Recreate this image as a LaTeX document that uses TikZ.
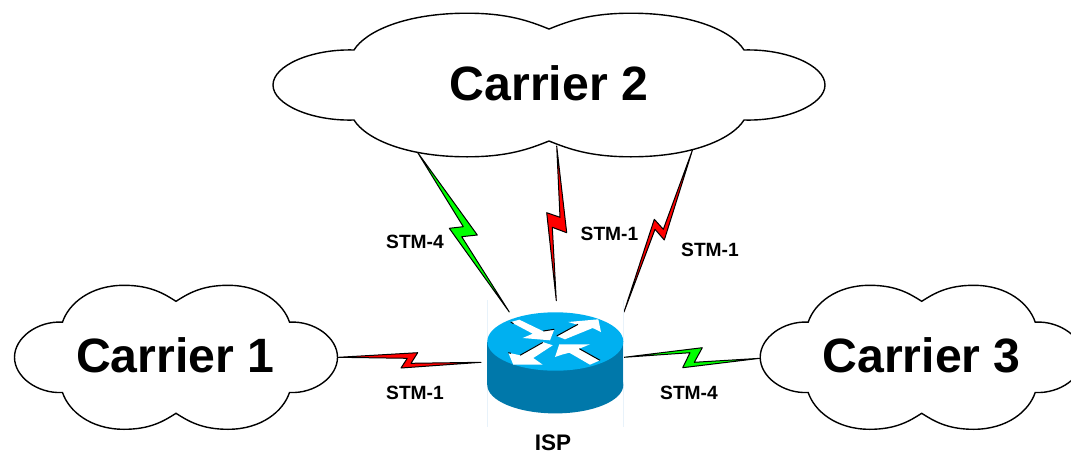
\documentclass[tikz,border=0pt]{standalone}
\usepackage{fontspec}
\setmainfont{Liberation Sans}
\usetikzlibrary{calc}
\definecolor{routertop}{RGB}{0,176,240}
\definecolor{routerbody}{RGB}{0,120,170}
\definecolor{routerghost}{RGB}{232,242,250}
\definecolor{boltgreen}{RGB}{0,255,0}
\definecolor{boltred}{RGB}{255,0,0}
\newcommand{\cloudoutline}[6]{% W N P H NY CY (centre at origin)
  \pgfmathsetmacro{\ga}{#1-#2}% side lobe depth
  \pgfmathsetmacro{\gb}{#2-#3}% notch to peak, across
  \pgfmathsetmacro{\gc}{#4-#5}% notch to peak, up
  \pgfmathsetmacro{\gd}{#4-#6}% peak to centre notch, down
  \pgfmathsetmacro{\sx}{#2+0.52*\ga}
  \pgfmathsetmacro{\sy}{#5+1.3}
  \pgfmathsetmacro{\sz}{#5*0.56}
  \pgfmathsetmacro{\nx}{#2-0.10*\gb}
  \pgfmathsetmacro{\ny}{#5+0.50*\gc}
  \pgfmathsetmacro{\px}{#3+0.55*\gb}
  \pgfmathsetmacro{\qx}{#3-0.50*#3}
  \pgfmathsetmacro{\cx}{#3*0.24}
  \pgfmathsetmacro{\cy}{#6+0.50*\gd}
  \draw[cloudline]
    (-#2,-#5) .. controls (-\sx,-\sy) and (-#1,-\sz) .. (-#1,0)
    .. controls (-#1,\sz) and (-\sx,\sy) .. (-#2,#5)
    .. controls (-\nx,\ny) and (-\px,#4) .. (-#3,#4)
    .. controls (-\qx,#4) and (-\cx,\cy) .. (0,#6)
    .. controls (\cx,\cy) and (\qx,#4) .. (#3,#4)
    .. controls (\px,#4) and (\nx,\ny) .. (#2,#5)
    .. controls (\sx,\sy) and (#1,\sz) .. (#1,0)
    .. controls (#1,-\sz) and (\sx,-\sy) .. (#2,-#5)
    .. controls (\nx,-\ny) and (\px,-#4) .. (#3,-#4)
    .. controls (\qx,-#4) and (\cx,-\cy) .. (0,-#6)
    .. controls (-\cx,-\cy) and (-\qx,-#4) .. (-#3,-#4)
    .. controls (-\px,-#4) and (-\nx,-\ny) .. (-#2,-#5)
    -- cycle;}
\tikzset{
  cloudline/.style={draw=black,fill=white,line width=1.4pt,line join=miter},
  bolt/.style={draw=black,line width=1pt,line join=round},
  cloudtext/.style={anchor=base,inner sep=0pt,font=\bfseries\fontsize{48.2}{48}\selectfont},
  linktext/.style={anchor=base,inner sep=0pt,font=\bfseries\fontsize{19.2}{20}\selectfont},
  routertext/.style={anchor=base,inner sep=0pt,font=\bfseries\fontsize{22.5}{24}\selectfont},
  arrowface/.style={fill=white,draw=none},
  arrowshade/.style={draw=black,line width=1pt}
}
\begin{document}
\begin{tikzpicture}[x=1pt,y=-1pt]
\useasboundingbox (0,0) rectangle (1071,453);
\fill[white] (0,0) rectangle (1071,453);
% link end points
\coordinate (c2a) at (417.3,152);
\coordinate (ra)  at (509.3,312);
\coordinate (c2b) at (556.7,146);
\coordinate (rb)  at (556.3,300.7);
\coordinate (c2c) at (692.7,149.3);
\coordinate (rc)  at (624,312);
\coordinate (c1e) at (338.3,357.3);
\coordinate (rd)  at (481,362.3);
\coordinate (re)  at (624,357.3);
\coordinate (c3e) at (760,358.3);
% bolts
\draw[bolt,fill=boltgreen] (c2a) -- (477.3,235) -- (461.7,236.7) -- (ra) -- (449.3,228.3) -- (463.3,226.7) -- cycle;
\draw[bolt,fill=boltred] (c2b) -- (566.7,232.7) -- (552.3,227.3) -- (rb) -- (546.7,212.7) -- (560,217.3) -- cycle;
\draw[bolt,fill=boltred] (c2c) -- (664.3,240) -- (655,229.3) -- (rc) -- (654.3,219.3) -- (663.3,229.3) -- cycle;
\draw[bolt,fill=boltred] (c1e) -- (417.7,352.7) -- (411,363.3) -- (rd) -- (401,368) -- (407.3,358.3) -- cycle;
\draw[bolt,fill=boltgreen] (re) -- (702.3,347.7) -- (694.3,362.3) -- (c3e) -- (682.7,367.7) -- (690,352.7) -- cycle;
% clouds
\begin{scope}[shift={(176,357.3)}]\cloudoutline{161.5}{113.5}{52}{72}{35.2}{56}\end{scope}
\begin{scope}[shift={(549,85)}]\cloudoutline{276}{195}{82}{71.8}{35}{56}\end{scope}
\begin{scope}[shift={(921.7,357.3)}]\cloudoutline{161.5}{113.5}{52}{72}{35.2}{56}\end{scope}
\node[cloudtext] (carrier2) at (549,100) {Carrier 2};
\node[cloudtext] (carrier1) at (175.3,372) {Carrier 1};
\node[cloudtext] (carrier3) at (921.7,372) {Carrier 3};
% router
\draw[routerghost,line width=0.5pt] (487.3,300) -- (487.3,427) (623.3,300) -- (623.3,427);
\fill[routerbody] (487.3,341.5) rectangle (623.3,385);
\fill[routerbody] (555.3,385) ellipse [x radius=68,y radius=28.4];
\fill[routertop] (555.3,341.5) ellipse [x radius=68,y radius=29.2];
\fill[arrowface] (510.7,322) -- (519.3,319.7) -- (543.3,331.3) -- (554.3,329.3) -- (550,340.3) -- (522.7,338) -- (532.7,333.7) -- cycle;
\draw[arrowshade] (543.3,331) -- (554.3,329.3) (510.7,322) -- (513.5,323.7);
\fill[arrowface] (556.7,336) -- (577.3,324.7) -- (568.3,322) -- (598.3,319.3) -- (601,332) -- (592.7,328) -- (565,339.3) -- cycle;
\draw[arrowshade] (556.7,336) -- (578,324.3);
\fill[arrowface] (508.3,352.7) -- (520,355.3) -- (542.7,342) -- (552.7,345.3) -- (533.3,358) -- (542.7,364.7) -- (513.3,364.7) -- cycle;
\draw[arrowshade] (520,355.3) -- (542.7,342.5) (508.3,352.7) -- (511,353.3);
\fill[arrowface] (555,357) -- (559.3,344.3) -- (590,344.3) -- (579.3,348.7) -- (600,360.3) -- (590,364.7) -- (569.3,352.7) -- (561.7,354.7) -- cycle;
\draw[arrowshade] (579.3,348.7) -- (600,360.3);
% labels
\node[routertext] (isp) at (553,450.7) {ISP};
\node[linktext] (l1) at (415,248) {STM-4};
\node[linktext] (l2) at (609.5,240.7) {STM-1};
\node[linktext] (l3) at (710,256.7) {STM-1};
\node[linktext] (l4) at (415,399) {STM-1};
\node[linktext] (l5) at (689,399) {STM-4};
\end{tikzpicture}
\end{document}
